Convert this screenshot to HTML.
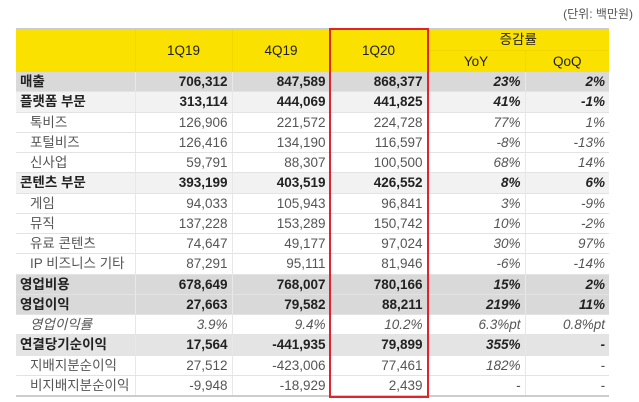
<!DOCTYPE html>
<html><head><meta charset="utf-8"><style>
body{margin:0;width:639px;height:402px;background:#fff;overflow:hidden;position:relative;font-family:"Liberation Sans","Noto Sans CJK KR",sans-serif;}
.unit{position:absolute;right:6px;top:5px;font-size:12px;color:#555;}
table{position:absolute;left:16px;top:29px;border-collapse:collapse;table-layout:fixed;width:593px;}
td,th{font-size:13.5px;padding:0 4px;height:19.25px;line-height:19px;border-bottom:1px solid #e3e3e3;border-right:1px solid #e8e8e8;white-space:nowrap;overflow:hidden;}
th{background:#fae100;font-weight:normal;color:#222;border-right:1px solid #f0d800;border-bottom:none;}
tr.hd th{height:21px;line-height:21px;}
td{text-align:right;color:#222;}
td:first-child{text-align:left;}
td.p{font-style:italic;}
tr.b td{font-weight:bold;}
tr.g1 td{background:#d9d9d9;}
tr.g2 td{background:#f2f2f2;}
tr.g3 td{background:#e4e4e4;}
tr.s td{color:#555;}
tr.s td:first-child{padding-left:14px;}
tr.i td{font-style:italic;color:#555;}
td:last-child,th:last-child{border-right:none;}
.red{position:absolute;left:329px;top:28px;width:96px;height:366px;border:2px solid #e0242b;}
.bot{position:absolute;left:16px;top:395px;width:593px;border-top:2px solid #ccc;}
.top{position:absolute;left:16px;top:28px;width:593px;border-top:2px solid #ccc;}
</style></head><body>
<div class="unit">(단위: 백만원)</div>
<table>
<colgroup><col style="width:119px"><col style="width:97px"><col style="width:98px"><col style="width:97px"><col style="width:98px"><col style="width:84px"></colgroup>
<tr class="hd"><th rowspan="2"></th><th rowspan="2">1Q19</th><th rowspan="2">4Q19</th><th rowspan="2">1Q20</th><th colspan="2" style="border-bottom:1px solid #f0d800">증감률</th></tr>
<tr class="hd"><th>YoY</th><th>QoQ</th></tr>
<tr class="b g1"><td>매출</td><td>706,312</td><td>847,589</td><td>868,377</td><td class="p">23%</td><td class="p">2%</td></tr>
<tr class="b g2"><td>플랫폼 부문</td><td>313,114</td><td>444,069</td><td>441,825</td><td class="p">41%</td><td class="p">-1%</td></tr>
<tr class="s"><td>톡비즈</td><td>126,906</td><td>221,572</td><td>224,728</td><td class="p">77%</td><td class="p">1%</td></tr>
<tr class="s"><td>포털비즈</td><td>126,416</td><td>134,190</td><td>116,597</td><td class="p">-8%</td><td class="p">-13%</td></tr>
<tr class="s"><td>신사업</td><td>59,791</td><td>88,307</td><td>100,500</td><td class="p">68%</td><td class="p">14%</td></tr>
<tr class="b g2"><td>콘텐츠 부문</td><td>393,199</td><td>403,519</td><td>426,552</td><td class="p">8%</td><td class="p">6%</td></tr>
<tr class="s"><td>게임</td><td>94,033</td><td>105,943</td><td>96,841</td><td class="p">3%</td><td class="p">-9%</td></tr>
<tr class="s"><td>뮤직</td><td>137,228</td><td>153,289</td><td>150,742</td><td class="p">10%</td><td class="p">-2%</td></tr>
<tr class="s"><td>유료 콘텐츠</td><td>74,647</td><td>49,177</td><td>97,024</td><td class="p">30%</td><td class="p">97%</td></tr>
<tr class="s"><td>IP 비즈니스 기타</td><td>87,291</td><td>95,111</td><td>81,946</td><td class="p">-6%</td><td class="p">-14%</td></tr>
<tr class="b g1"><td>영업비용</td><td>678,649</td><td>768,007</td><td>780,166</td><td class="p">15%</td><td class="p">2%</td></tr>
<tr class="b g1"><td>영업이익</td><td>27,663</td><td>79,582</td><td>88,211</td><td class="p">219%</td><td class="p">11%</td></tr>
<tr class="i"><td style="padding-left:14px">영업이익률</td><td>3.9%</td><td>9.4%</td><td>10.2%</td><td>6.3%pt</td><td>0.8%pt</td></tr>
<tr class="b g3"><td>연결당기순이익</td><td>17,564</td><td>-441,935</td><td>79,899</td><td class="p">355%</td><td class="p">-</td></tr>
<tr class="s"><td>지배지분순이익</td><td>27,512</td><td>-423,006</td><td>77,461</td><td class="p">182%</td><td class="p">-</td></tr>
<tr class="s"><td>비지배지분순이익</td><td>-9,948</td><td>-18,929</td><td>2,439</td><td class="p">-</td><td class="p">-</td></tr>
</table>
<div class="top"></div>
<div class="bot"></div>
<div class="red"></div>
</body></html>
